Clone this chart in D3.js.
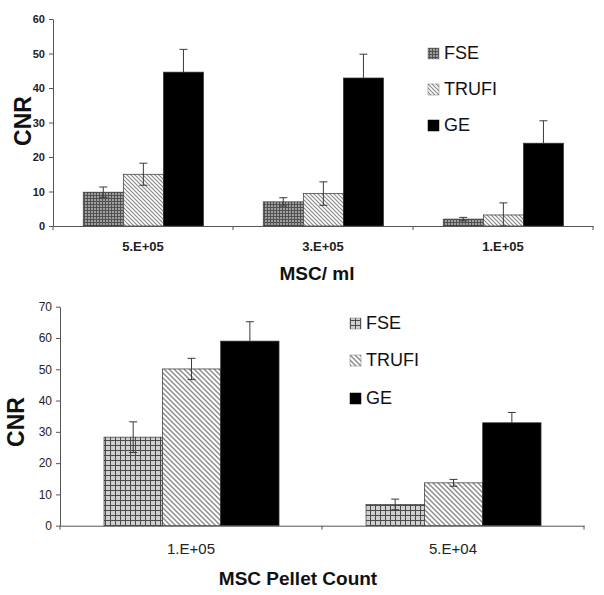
<!DOCTYPE html>
<html><head><meta charset="utf-8">
<script src="https://cdn.jsdelivr.net/npm/d3@7"></script>
<style>body{margin:0;background:#fff}svg{display:block}text{font-family:"Liberation Sans",Arial,sans-serif}</style>
</head><body><svg id="c" width="604" height="595"></svg>
<script>
const series = ["FSE","TRUFI","GE"];
// Top chart: MSC/ml
const topCats = ["5.E+05","3.E+05","1.E+05"];
const topFSE = [9.8, 7.0, 2.0];
const topFSEerr = [1.5, 1.2, 0.5];
const topTRUFI = [15.0, 9.4, 3.2];
const topTRUFIerr = [3.2, 3.4, 3.5];
const topGE = [44.6, 42.9, 24.0];
const topGEerr = [6.6, 6.9, 6.5];
const topTicks = [0,10,20,30,40,50,60];
// Bottom chart: MSC Pellet Count
const botCats = ["1.E+05","5.E+04"];
const botFSE = [28.3, 6.8];
const botFSEerr = [4.9, 1.7];
const botTRUFI = [50.1, 13.7];
const botTRUFIerr = [3.4, 1.1];
const botGE = [59.0, 32.9];
const botGEerr = [6.2, 3.3];
const botTicks = [0,10,20,30,40,50,60,70];

const svg = d3.select("#c");
const defs = svg.append("defs");
function grid(id, bg, line, s){
  const p = defs.append("pattern").attr("id",id).attr("patternUnits","userSpaceOnUse").attr("width",s).attr("height",s);
  p.append("rect").attr("width",s).attr("height",s).attr("fill",bg);
  p.append("path").attr("d",`M0,0.5H${s}M0.5,0V${s}`).attr("stroke",line).attr("stroke-width",1);
}
function diag(id, line, s, w){
  const p = defs.append("pattern").attr("id",id).attr("patternUnits","userSpaceOnUse").attr("width",s).attr("height",s);
  p.append("rect").attr("width",s).attr("height",s).attr("fill","#fff");
  p.append("path").attr("d",`M0,0L${s},${s}M${-s},0L${s},${2*s}M0,${-s}L${2*s},${s}`).attr("stroke",line).attr("stroke-width",w);
}
grid("fseTop","#a0a0a0","#505050",3);
diag("trTop","#8a8a8a",4,1.2);
grid("fseBot","#cfcfcf","#4a4a4a",5);
diag("trBot","#8a8a8a",5,1.4);

function chart(o){
  const g = svg.append("g");
  const x = d3.scaleBand().domain(o.cats).range([o.x0,o.x1]).padding(0);
  const xi = d3.scaleBand().domain(series).range([x.bandwidth()*0.168, x.bandwidth()*0.836]).padding(0);
  const y = d3.scaleLinear().domain([0,o.ymax]).range([o.y0,o.y1]);
  const data = [];
  o.cats.forEach((c,i)=>{
    series.forEach((s,j)=>{
      data.push({c, s, v:o.vals[j][i], e:o.errs[j][i], fill:o.fills[j], solid:j===2});
    });
  });
  // bars
  g.selectAll("rect.bar").data(data).join("rect").attr("class","bar")
    .attr("x",d=>x(d.c)+xi(d.s)).attr("width",xi.bandwidth())
    .attr("y",d=>y(d.v)).attr("height",d=>y(0)-y(d.v))
    .attr("fill",d=>d.fill).attr("stroke","#333").attr("stroke-width",0.7);
  // error bars
  const cw = 4;
  data.forEach(d=>{
    const cx = x(d.c)+xi(d.s)+xi.bandwidth()/2;
    const yt = y(d.v+d.e), yb = y(Math.max(0,d.v-d.e));
    const bottom = d.solid ? "" : `M${cx-cw},${yb}H${cx+cw}`;
    g.append("path").attr("d",`M${cx},${yt}V${d.solid ? y(d.v) : yb}M${cx-cw},${yt}H${cx+cw}${bottom}`)
      .attr("stroke","#3a3a3a").attr("stroke-width",1).attr("fill","none");
  });
  // y axis
  const ya = g.append("g").attr("transform",`translate(${o.x0},0)`)
    .call(d3.axisLeft(y).tickValues(o.ticks).tickSize(4).tickPadding(4).tickSizeOuter(0));
  ya.select(".domain").attr("stroke","#555");
  ya.selectAll(".tick line").attr("stroke","#555");
  ya.selectAll("text").attr("font-size",o.tickFont).attr("fill","#222").attr("font-family","Liberation Sans, Arial").attr("font-weight",o.tickWeight);
  // x axis
  const xa = g.append("g").attr("transform",`translate(0,${o.y0})`)
    .call(d3.axisBottom(x).tickSize(0).tickPadding(o.catPad));
  xa.select(".domain").attr("stroke","#555");
  xa.selectAll("text").attr("font-size",o.catFont).attr("fill","#222").attr("font-family","Liberation Sans, Arial").attr("font-weight",o.tickWeight);
  const bounds = o.cats.map(c=>x(c)).concat([o.x1]);
  g.selectAll("line.xt").data(bounds).join("line").attr("class","xt")
    .attr("x1",d=>d).attr("x2",d=>d).attr("y1",o.y0).attr("y2",o.y0+4).attr("stroke","#555");
  // axis titles
  g.append("text").attr("transform",`translate(${o.ylx},${o.yly}) rotate(-90)`)
    .attr("text-anchor","middle").attr("dominant-baseline","central")
    .attr("font-size",23).attr("font-weight","bold").attr("fill","#111").text("CNR");
  g.append("text").attr("x",o.xlx).attr("y",o.xly).attr("text-anchor","middle").attr("dominant-baseline","central")
    .attr("font-size",19).attr("font-weight","bold").attr("fill","#111").text(o.xtitle);
  // legend
  series.forEach((s,j)=>{
    const ly = o.legY[j];
    g.append("rect").attr("x",o.legX).attr("y",ly-5).attr("width",11).attr("height",11).attr("fill",o.legFills[j]).attr("stroke", j==2?"#000":"#777").attr("stroke-width",0.5);
    g.append("text").attr("x",o.legX+16).attr("y",ly).attr("dominant-baseline","central")
      .attr("font-size",18).attr("fill","#111").text(s);
  });
}

chart({cats:topCats, vals:[topFSE,topTRUFI,topGE], errs:[topFSEerr,topTRUFIerr,topGEerr],
  fills:["url(#fseTop)","url(#trTop)","#000"], legFills:["url(#fseTop)","url(#trTop)","#000"],
  x0:53, x1:593, y0:226, y1:19, ymax:60, ticks:topTicks, tickFont:11, tickWeight:"bold", catFont:13, catPad:16,
  ylx:23, yly:121, xlx:317, xly:273, xtitle:"MSC/ ml", legX:428, legY:[53,89,125]});
chart({cats:botCats, vals:[botFSE,botTRUFI,botGE], errs:[botFSEerr,botTRUFIerr,botGEerr],
  fills:["url(#fseBot)","url(#trBot)","#000"], legFills:["url(#fseBot)","url(#trBot)","#000"],
  x0:60, x1:584, y0:525.7, y1:306.7, ymax:70, ticks:botTicks, tickFont:12, tickWeight:"normal", catFont:15, catPad:18,
  ylx:16, yly:422, xlx:298, xly:578, xtitle:"MSC Pellet Count", legX:350, legY:[323,360,398]});
</script></body></html>
